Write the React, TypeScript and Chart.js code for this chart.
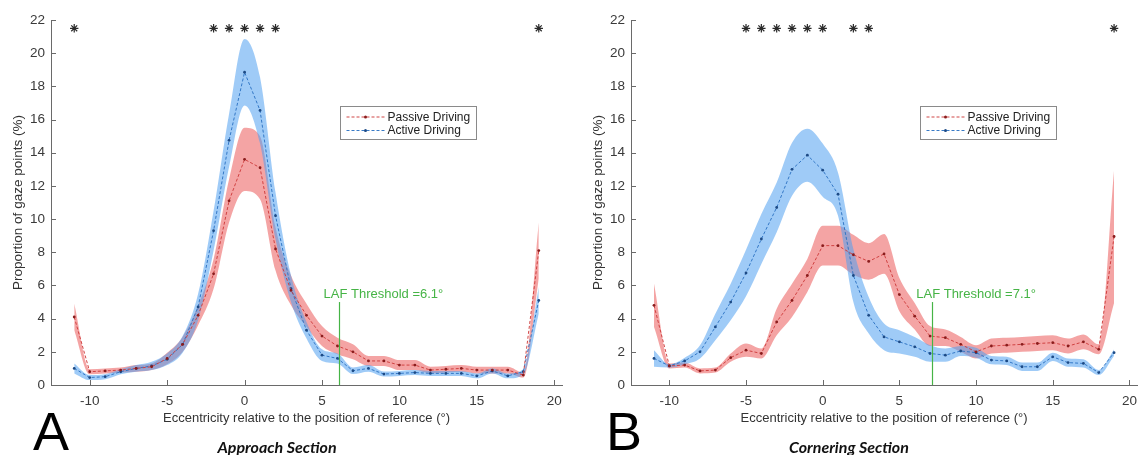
import React, { useEffect, useRef } from 'react';
import { Chart, registerables } from 'chart.js';

Chart.register(...registerables);

const eccentricity = [-11, -10, -9, -8, -7, -6, -5, -4, -3, -2, -1, 0, 1, 2, 3, 4, 5, 6, 7, 8, 9, 10, 11, 12, 13, 14, 15, 16, 17, 18, 19];
const xTicks = [-10, -5, 0, 5, 10, 15, 20];
const yTicks = [0, 2, 4, 6, 8, 10, 12, 14, 16, 18, 20, 22];

const approachPassive = [4.1, 0.8, 0.85, 0.9, 1.0, 1.1, 1.6, 2.45, 4.2, 6.7, 11.1, 13.6, 13.1, 8.2, 5.7, 4.2, 2.95, 2.35, 2.0, 1.45, 1.45, 1.2, 1.2, 0.9, 0.95, 1.0, 0.9, 0.9, 0.9, 0.6, 8.1];
const approachPassiveErr = [0.8, 0.15, 0.15, 0.15, 0.2, 0.2, 0.35, 0.45, 0.6, 0.9, 1.3, 1.9, 1.9, 1.3, 0.9, 0.7, 0.6, 0.5, 0.45, 0.3, 0.3, 0.3, 0.3, 0.2, 0.2, 0.2, 0.2, 0.2, 0.2, 0.15, 1.7];
const approachActive = [1.0, 0.45, 0.5, 0.8, 1.0, 1.15, 1.55, 2.45, 4.7, 9.3, 14.75, 18.85, 16.55, 10.2, 5.8, 3.3, 1.8, 1.6, 0.86, 1.0, 0.66, 0.7, 0.75, 0.7, 0.7, 0.7, 0.55, 0.85, 0.55, 0.8, 5.1];
const approachActiveErr = [0.3, 0.15, 0.15, 0.15, 0.2, 0.25, 0.35, 0.5, 0.8, 1.2, 1.6, 2.0, 2.0, 1.4, 0.8, 0.5, 0.35, 0.3, 0.2, 0.2, 0.15, 0.15, 0.15, 0.15, 0.15, 0.15, 0.15, 0.15, 0.15, 0.15, 0.8];

const corneringPassive = [4.8, 1.15, 1.2, 0.85, 0.9, 1.65, 2.1, 1.9, 3.8, 5.1, 6.6, 8.4, 8.4, 7.85, 7.45, 7.9, 5.45, 4.15, 2.95, 2.85, 2.45, 2.0, 2.35, 2.4, 2.45, 2.5, 2.55, 2.35, 2.6, 2.15, 8.95];
const corneringPassiveErr = [1.3, 0.15, 0.15, 0.15, 0.15, 0.25, 0.4, 0.3, 0.8, 1.0, 1.0, 1.2, 1.2, 1.2, 1.1, 1.2, 1.0, 0.8, 0.6, 0.5, 0.45, 0.4, 0.45, 0.45, 0.45, 0.45, 0.45, 0.45, 0.45, 0.3, 4.0];
const corneringActive = [1.6, 1.15, 1.45, 2.0, 3.5, 5.0, 6.75, 8.8, 10.7, 13.0, 13.85, 12.95, 11.5, 6.6, 4.2, 2.9, 2.6, 2.3, 1.9, 1.8, 2.05, 1.95, 1.5, 1.45, 1.1, 1.1, 1.7, 1.35, 1.3, 0.75, 1.95];
const corneringActiveErr = [0.5, 0.1, 0.2, 0.4, 0.8, 1.1, 1.4, 1.5, 1.5, 1.6, 1.6, 1.6, 1.3, 1.6, 1.1, 0.8, 0.7, 0.6, 0.5, 0.4, 0.3, 0.3, 0.25, 0.25, 0.25, 0.25, 0.25, 0.25, 0.25, 0.15, 0.2];

const approachSignificant = [-11, -2, -1, 0, 1, 2, 19];
const corneringSignificant = [-5, -4, -3, -2, -1, 0, 2, 3, 19];
const lafThresholds = [6.1, 7.1];
const seriesNames = ['Passive Driving', 'Active Driving'];
const panelLetters = ['A', 'B'];
const sectionNames = ['Approach Section', 'Cornering Section'];

const FONT = '"Liberation Sans", Arial, sans-serif';
const RED_LINE = 'rgba(205,60,60,0.95)';
const RED_PT = '#8a1c1c';
const RED_BAND = 'rgba(235,90,90,0.55)';
const BLUE_LINE = 'rgba(45,115,195,0.95)';
const BLUE_PT = '#1d4a85';
const BLUE_BAND = 'rgba(80,160,240,0.55)';
const GREEN = 'rgb(70,180,70)';

const overlayPlugin = {
  id: 'overlay',
  afterDraw(chart: any, _args: any, opts: any) {
    const { ctx, chartArea: ca, scales } = chart;
    const x = scales.x;
    const y = scales.y;
    ctx.save();
    // inward tick marks
    ctx.strokeStyle = '#6a6a6a';
    ctx.lineWidth = 1;
    xTicks.forEach((t) => {
      const px = Math.round(x.getPixelForValue(t)) + 0.5;
      ctx.beginPath();
      ctx.moveTo(px, ca.bottom);
      ctx.lineTo(px, ca.bottom - 5);
      ctx.stroke();
    });
    yTicks.forEach((t) => {
      const py = Math.round(y.getPixelForValue(t)) + 0.5;
      ctx.beginPath();
      ctx.moveTo(ca.left, py);
      ctx.lineTo(ca.left + 5, py);
      ctx.stroke();
    });
    // LAF threshold line and label
    const lx = Math.round(x.getPixelForValue(opts.laf)) + 0.5;
    ctx.strokeStyle = GREEN;
    ctx.lineWidth = 1.2;
    ctx.beginPath();
    ctx.moveTo(lx, y.getPixelForValue(0));
    ctx.lineTo(lx, y.getPixelForValue(5));
    ctx.stroke();
    ctx.fillStyle = GREEN;
    ctx.font = '13px ' + FONT;
    ctx.textAlign = 'left';
    ctx.textBaseline = 'middle';
    ctx.fillText('LAF Threshold =' + opts.laf + '°', x.getPixelForValue(opts.laf - 1.0), y.getPixelForValue(5.45));
    // legend
    const bx = ca.left + 289.5;
    const by = ca.top + 86.5;
    const bw = 136;
    ctx.fillStyle = '#fff';
    ctx.fillRect(bx, by, bw, 33);
    ctx.strokeStyle = '#8a8a8a';
    ctx.lineWidth = 1;
    ctx.strokeRect(bx, by, bw, 33);
    const rows = [
      { name: seriesNames[0], line: RED_LINE, pt: RED_PT, dy: 10.5 },
      { name: seriesNames[1], line: BLUE_LINE, pt: BLUE_PT, dy: 24 },
    ];
    rows.forEach((r) => {
      const ry = by + r.dy;
      ctx.strokeStyle = r.line;
      ctx.setLineDash([3, 2]);
      ctx.beginPath();
      ctx.moveTo(bx + 6, ry);
      ctx.lineTo(bx + 44, ry);
      ctx.stroke();
      ctx.setLineDash([]);
      ctx.fillStyle = r.pt;
      ctx.beginPath();
      ctx.arc(bx + 25, ry, 1.5, 0, Math.PI * 2);
      ctx.fill();
      ctx.fillStyle = '#222';
      ctx.font = '12px ' + FONT;
      ctx.textAlign = 'left';
      ctx.textBaseline = 'middle';
      ctx.fillText(r.name, bx + 47, ry + 0.5);
    });
    ctx.restore();
  },
};

type PanelProps = {
  passive: number[];
  passiveErr: number[];
  active: number[];
  activeErr: number[];
  sig: number[];
  laf: number;
  left: number;
  width: number;
  rightPad: number;
};

function Panel({ passive, passiveErr, active, activeErr, sig, laf, left, width, rightPad }: PanelProps) {
  const ref = useRef<HTMLCanvasElement>(null);
  useEffect(() => {
    if (!ref.current) return;
    const pts = (v: number[]) => eccentricity.map((x, i) => ({ x, y: v[i] }));
    const upper = (v: number[], e: number[]) => eccentricity.map((x, i) => ({ x, y: v[i] + e[i] }));
    const lower = (v: number[], e: number[]) => eccentricity.map((x, i) => ({ x, y: Math.max(0, v[i] - e[i]) }));
    const band = (data: any[], color: string, fill: any) => ({
      data,
      showLine: true,
      pointRadius: 0,
      borderWidth: 0,
      borderColor: 'rgba(0,0,0,0)',
      backgroundColor: color,
      fill,
      cubicInterpolationMode: 'monotone',
      order: 10,
    });
    const line = (data: any[], color: string, pt: string) => ({
      data,
      showLine: true,
      borderColor: color,
      borderWidth: 1,
      borderDash: [3, 2],
      pointRadius: 1.4,
      pointBackgroundColor: pt,
      pointBorderWidth: 0,
      fill: false,
      order: 1,
    });
    const chart = new Chart(ref.current, {
      type: 'scatter',
      data: {
        datasets: [
          band(upper(active, activeErr), BLUE_BAND, '+1'),
          band(lower(active, activeErr), BLUE_BAND, false),
          band(upper(passive, passiveErr), RED_BAND, '+1'),
          band(lower(passive, passiveErr), RED_BAND, false),
          line(pts(passive), RED_LINE, RED_PT),
          line(pts(active), BLUE_LINE, BLUE_PT),
          {
            data: sig.map((x) => ({ x, y: 21.5 })),
            showLine: false,
            pointStyle: 'star',
            pointRadius: 4.2,
            borderColor: '#2a2a2a',
            borderWidth: 1.2,
            order: 0,
          },
        ] as any,
      },
      options: {
        animation: false,
        responsive: false,
        maintainAspectRatio: false,
        events: [],
        layout: { padding: { top: 20, right: rightPad, bottom: 0, left: 0 } },
        plugins: {
          legend: { display: false },
          tooltip: { enabled: false },
          overlay: { laf },
        } as any,
        scales: {
          x: {
            type: 'linear',
            min: -12.5,
            max: 20.5,
            grid: { display: false, drawTicks: false },
            border: { display: true, color: '#6a6a6a', width: 1 },
            afterBuildTicks: (s: any) => {
              s.ticks = xTicks.map((v) => ({ value: v }));
            },
            afterFit: (s: any) => {
              s.height = 70;
            },
            ticks: {
              padding: 8,
              color: '#3a3a3a',
              font: { family: FONT, size: 13.5 },
              maxRotation: 0,
              callback: (v: any) => String(v),
            },
            title: {
              display: true,
              text: 'Eccentricity relative to the position of reference (°)',
              color: '#333',
              font: { family: FONT, size: 13 },
              padding: { top: 0, bottom: 29 },
            },
          },
          y: {
            type: 'linear',
            min: 0,
            max: 22,
            grid: { display: false, drawTicks: false },
            border: { display: true, color: '#6a6a6a', width: 1 },
            afterBuildTicks: (s: any) => {
              s.ticks = yTicks.map((v) => ({ value: v }));
            },
            afterFit: (s: any) => {
              s.width = 51;
            },
            ticks: {
              padding: 6,
              color: '#3a3a3a',
              font: { family: FONT, size: 13.5 },
              callback: (v: any) => String(v),
            },
            title: {
              display: true,
              text: 'Proportion of gaze points (%)',
              color: '#333',
              font: { family: FONT, size: 13.5 },
              padding: { top: 10, bottom: 0 },
            },
          },
        },
      } as any,
      plugins: [overlayPlugin as any],
    });
    return () => chart.destroy();
  }, []);
  return (
    <canvas
      ref={ref}
      width={width}
      height={455}
      style={{ position: 'absolute', left, top: 0, width, height: 455 }}
    />
  );
}

export default function App() {
  const letterStyle: React.CSSProperties = {
    position: 'absolute',
    top: 404,
    fontSize: 54,
    lineHeight: '54px',
    fontFamily: FONT,
    color: '#000',
  };
  const sectionStyle: React.CSSProperties = {
    position: 'absolute',
    top: 437,
    width: 220,
    textAlign: 'center',
    fontSize: 16,
    lineHeight: '20px',
    fontWeight: 'bold',
    fontStyle: 'italic',
    fontFamily: 'Lato, "Open Sans", sans-serif',
    color: '#111',
  };
  return (
    <div style={{ position: 'absolute', left: 0, top: 0, width: 1145, height: 455, background: '#fff', overflow: 'hidden' }}>
      <Panel
        passive={approachPassive}
        passiveErr={approachPassiveErr}
        active={approachActive}
        activeErr={approachActiveErr}
        sig={approachSignificant}
        laf={lafThresholds[0]}
        left={0}
        width={572}
        rightPad={10}
      />
      <Panel
        passive={corneringPassive}
        passiveErr={corneringPassiveErr}
        active={corneringActive}
        activeErr={corneringActiveErr}
        sig={corneringSignificant}
        laf={lafThresholds[1]}
        left={580}
        width={565}
        rightPad={3}
      />
      <div style={{ ...letterStyle, left: 33 }}>{panelLetters[0]}</div>
      <div style={{ ...letterStyle, left: 606 }}>{panelLetters[1]}</div>
      <div style={{ ...sectionStyle, left: 277 - 110 }}>{sectionNames[0]}</div>
      <div style={{ ...sectionStyle, left: 849 - 110 }}>{sectionNames[1]}</div>
    </div>
  );
}
